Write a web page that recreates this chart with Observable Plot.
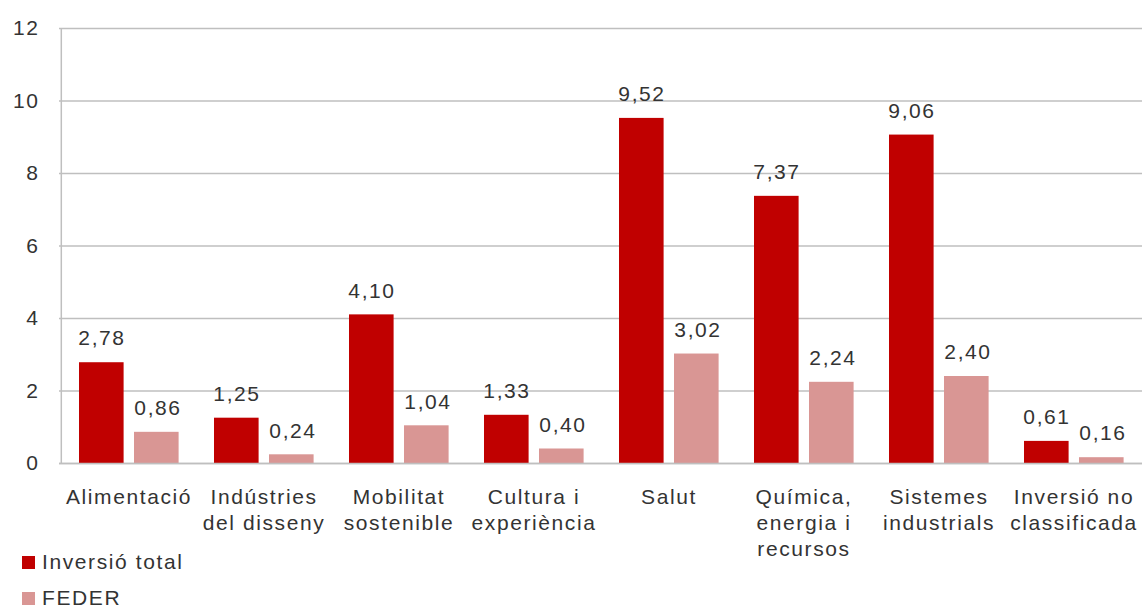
<!DOCTYPE html>
<html><head><meta charset="utf-8">
<script src="https://cdn.jsdelivr.net/npm/d3@7"></script>
<script src="https://cdn.jsdelivr.net/npm/@observablehq/plot@0.6"></script>
<style>
body{margin:0;background:#fff;font-family:"Liberation Sans",Arial,sans-serif;}
#chart svg{overflow:visible;display:block;}
#legend{margin-left:22px;margin-top:-4px;font-size:21px;letter-spacing:1.6px;color:#333;}
#legend div{display:flex;align-items:center;height:36px;}
#legend span.sw{display:inline-block;width:13px;height:13px;margin-right:7px;}
</style></head>
<body><div id="chart"></div><div id="legend"></div>
<script>
const categories = ["Alimentació","Indústries\ndel disseny","Mobilitat\nsostenible","Cultura i\nexperiència","Salut","Química,\nenergia i\nrecursos","Sistemes\nindustrials","Inversió no\nclassificada"];
const total = [2.78,1.25,4.10,1.33,9.52,7.37,9.06,0.61];
const feder = [0.86,0.24,1.04,0.40,3.02,2.24,2.40,0.16];
const seriesNames = ["Inversió total","FEDER"];
const colors = ["#C00000","#D99694"];
const yTicks = [0,2,4,6,8,10,12];

const rowsT = categories.map((c,i)=>({cat:c,v:total[i]}));
const rowsF = categories.map((c,i)=>({cat:c,v:feder[i]}));
const fmt = v => v.toFixed(2).replace(".",",");

const chart = Plot.plot({
  width:1142, height:548,
  marginLeft:59, marginRight:0, marginTop:28, marginBottom:85,
  style:{fontFamily:"Liberation Sans, Arial, sans-serif", fontSize:"21px", color:"#333", letterSpacing:"1.6px", overflow:"visible"},
  x:{domain:categories, range:[59,1142], padding:0},
  y:{domain:[0,12]},
  marks:[
    Plot.gridY(yTicks,{stroke:"#BFBFBF", strokeOpacity:1, strokeWidth:1.5}),
    Plot.ruleX([0],{x:()=>categories[0], dx:-67.7, stroke:"#BFBFBF", strokeWidth:1.5}),
    Plot.barY(rowsT,{x:"cat", y:"v", fill:colors[0], insetLeft:18, insetRight:72.4}),
    Plot.barY(rowsF,{x:"cat", y:"v", fill:colors[1], insetLeft:73, insetRight:17.4}),
    Plot.ruleY([0],{stroke:"#BFBFBF", strokeWidth:1.5}),
    Plot.text(rowsT,{x:"cat", y:"v", text:d=>fmt(d.v), dx:-27, dy:-24, fontSize:21, fill:"#333"}),
    Plot.text(rowsF,{x:"cat", y:"v", text:d=>fmt(d.v), dx:29, dy:-24, fontSize:21, fill:"#333"}),
    Plot.axisY(yTicks,{tickSize:0, tickPadding:20, fontSize:21, fill:"#333", label:null}),
    Plot.axisX({tickSize:0, tickPadding:22, fontSize:21, fill:"#333", label:null, lineHeight:1.24, lineAnchor:"top"})
  ]
});
document.getElementById("chart").appendChild(chart);
const lg = document.getElementById("legend");
seriesNames.forEach((n,i)=>{
  const d=document.createElement("div");
  d.innerHTML=`<span class="sw" style="background:${colors[i]}"></span>${n}`;
  lg.appendChild(d);
});
</script></body></html>
